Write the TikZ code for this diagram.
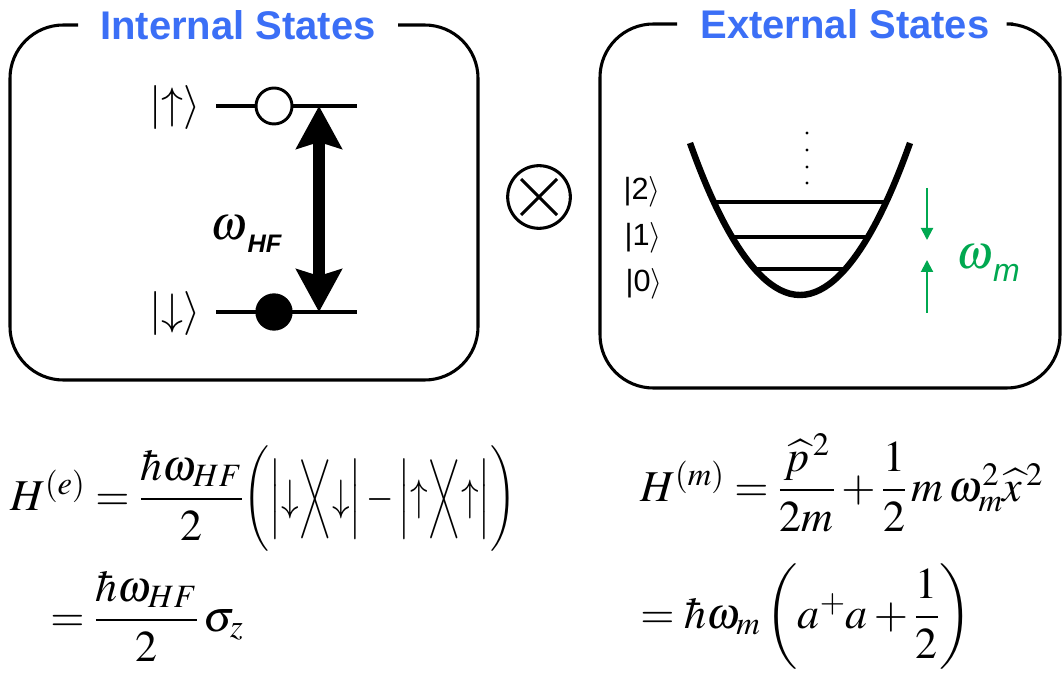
\documentclass[tikz,border=0pt]{standalone}
\usepackage{mathptmx}
\usepackage{amsmath}
\usepackage{graphicx}
\usepackage[no-math]{fontspec}
\newfontfamily\arialf{Liberation Sans}
\usetikzlibrary{arrows.meta}
\definecolor{titleblue}{RGB}{59,111,246}
\definecolor{mgreen}{RGB}{0,168,80}
\tikzset{
  box/.style={line width=2.3pt, rounded corners=40pt},
  boxtitle/.style={inner sep=0pt, text=titleblue, font=\arialf\bfseries\fontsize{30}{34}\selectfont},
  lev/.style={line width=3pt},
  hlev/.style={line width=2.3pt},
  ket/.style={inner sep=0pt, font=\fontsize{33}{38}\selectfont},
  sket/.style={inner sep=0pt, font=\arialf\fontsize{23}{26}\selectfont},
  garr/.style={mgreen, line width=1.5pt, -{Triangle[width=9pt,length=9pt]}},
  eq/.style={inner sep=0pt, anchor=base west, font=\fontsize{33}{40}\selectfont},
}
\begin{document}
\begin{tikzpicture}[x=0.75pt,y=-0.75pt]
\useasboundingbox (0,0) rectangle (1063,673);
% boxes
\draw[box] (78,25) -- (10,25) -- (10,380) -- (478,380) -- (478,25) -- (398,25);
\draw[box] (677,24) -- (600,24) -- (600,388) -- (1060,388) -- (1060,24) -- (1013,24);
\node[boxtitle] (tin) at (238,25) {Internal States};
\node[boxtitle] (tex) at (845,24) {External States};
% internal states
\draw[lev] (216,106) -- (357,106);
\draw[lev] (216,312) -- (357,312);
\node[circle, draw, fill=white, line width=2.2pt, minimum size=27pt, inner sep=0pt] (up) at (274,106) {};
\node[circle, fill=black, minimum size=28pt, inner sep=0pt] (dn) at (274,312) {};
\node[ket] (kup) at (175,108) {$|{\uparrow}\rangle$};
\node[ket] (kdn) at (175,314) {$|{\downarrow}\rangle$};
\coordinate (atop) at (319,106);
\coordinate (abot) at (319,312);
\draw[line width=9.5pt, {Stealth[width=34pt,length=32pt,inset=5pt]}-{Stealth[width=34pt,length=32pt,inset=5pt]}] (atop) -- (abot);
\node[inner sep=0pt] (whf) at (246,234) {\fontsize{36}{40}\selectfont$\boldsymbol{\omega}$\raisebox{-10pt}{\arialf\bfseries\itshape\fontsize{19}{22}\selectfont HF}};
% otimes
\node[circle, draw, line width=2.3pt, minimum size=47pt, inner sep=0pt] (ot) at (539,197) {};
\draw[line width=2.3pt] ([shift={(-18,-18)}]ot.center) -- ([shift={(18,18)}]ot.center);
\draw[line width=2.3pt] ([shift={(-18,18)}]ot.center) -- ([shift={(18,-18)}]ot.center);
% external states
\draw[line width=4.8pt] (690,143) parabola bend (800,295) (910,143);
\draw[hlev] (714,202) -- (886,202);
\draw[hlev] (732,237) -- (868,237);
\draw[hlev] (755,269) -- (845,269);
\foreach \yy in {133,150,167,183} \fill (807,\yy) circle (1.3pt);
\node[sket] (k2) at (642,192) {|2$\rangle$};
\node[sket] (k1) at (643,238) {|1$\rangle$};
\node[sket] (k0) at (644,284) {|0$\rangle$};
\coordinate (g1) at (927,188);
\coordinate (g2) at (927,240);
\coordinate (g3) at (927,313);
\coordinate (g4) at (927,260);
\draw[garr] (g1) -- (g2);
\draw[garr] (g3) -- (g4);
\node[inner sep=0pt, text=mgreen] (wm) at (988,263) {\fontsize{36}{40}\selectfont$\omega$\raisebox{-10pt}{\arialf\itshape\fontsize{24}{26}\selectfont m}};
% equations
\node[eq] (e1) at (10,510) {$H^{(e)} = \dfrac{\hbar\omega_{HF}}{2}\scalebox{0.8}[1]{$\biggl(\Bigl|{\downarrow}\Bigr\rangle\mkern-5mu\Bigl\langle{\downarrow}\Bigr| - \Bigl|{\uparrow}\Bigr\rangle\mkern-5mu\Bigl\langle{\uparrow}\Bigr|\biggr)$}$};
\node[eq] (e2) at (50,631) {$= \dfrac{\hbar\omega_{HF}}{2}\,\sigma_z$};
\node[eq] (e3) at (640,501) {$H^{(m)} = \dfrac{\widehat{p}^{\,2}}{2m} + \dfrac{1}{2}\, m\,\omega_m^2\widehat{x}^{\,2}$};
\node[eq] (e4) at (640,628) {$= \hbar\omega_m\left(a^{+}a + \dfrac{1}{2}\right)$};
\end{tikzpicture}
\end{document}
